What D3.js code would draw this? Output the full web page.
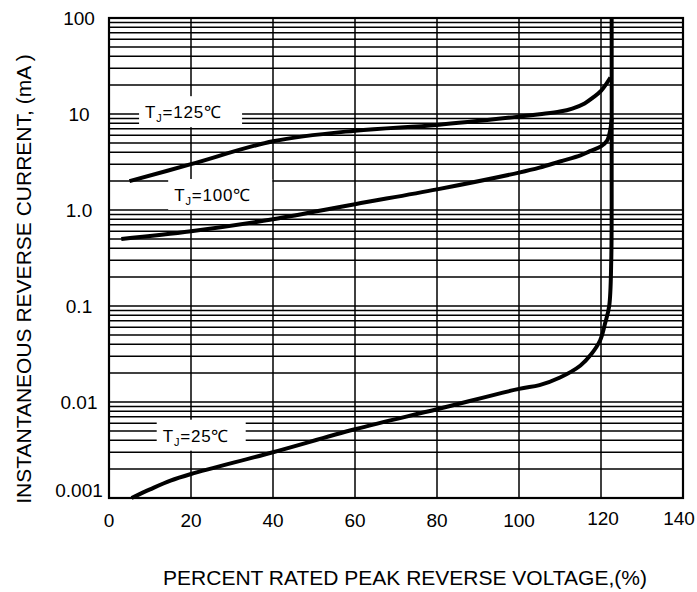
<!DOCTYPE html>
<html>
<head>
<meta charset="utf-8">
<script src="https://cdn.jsdelivr.net/npm/d3@7"></script>
<style>
  body { margin: 0; background: #fff; }
  text { font-family: "Liberation Sans", Arial, sans-serif; fill: #000; }
</style>
</head>
<body>
<svg id="chart" width="697" height="592"></svg>
<script>
// percent rated peak reverse voltage vs reverse current (mA)
const pct125 = [5, 20, 40, 60, 80, 100, 105, 110, 113, 116, 118, 120, 122.3];
const cur125 = [2.0, 3.0, 5.2, 6.7, 7.7, 9.4, 9.95, 10.6, 11.4, 12.9, 14.8, 17.4, 24];

const pct100 = [3, 20, 40, 60, 80, 100, 105, 110, 115, 117.3, 120, 121.5, 122.3, 122.6];
const cur100 = [0.5, 0.6, 0.8, 1.15, 1.64, 2.45, 2.76, 3.2, 3.7, 4.1, 4.6, 5.3, 7, 9];

const pct25 = [5.5, 10, 15, 20, 40, 60, 80, 100, 105, 110, 115, 117.5, 119.8, 121, 122, 122.5, 122.6, 122.6];
const cur25 = [0.001, 0.00123, 0.00152, 0.00178, 0.003, 0.0052, 0.0084, 0.0137, 0.015, 0.018, 0.024, 0.031, 0.044, 0.066, 0.1, 0.3, 3, 100];

const xTicks = [0, 20, 40, 60, 80, 100, 120, 140];
const yTicks = [0.001, 0.01, 0.1, 1, 10, 100];
const yTickLabels = ["0.001", "0.01", "0.1", "1.0", "10", "100"];

const curveLabels = [
  {temp: "125", x: 8.8, y: 10.2, w: 103},
  {temp: "100", x: 15.9, y: 1.40, w: 104},
  {temp: "25", x: 13.1, y: 0.00435, w: 89}
];

const svg = d3.select("#chart");

// plot box
const pLeft = 109, pRight = 683, pTop = 18, pBottom = 498;

const x = d3.scaleLinear().domain([0, 140]).range([pLeft, pRight]);
const y = d3.scaleLog().domain([0.001, 100]).range([pBottom, pTop]);

const grid = svg.append("g");

// horizontal log grid, 1..9 in every decade
let hLines = [];
for (let k = -3; k <= 1; k++) {
  for (let d = 1; d <= 9; d++) hLines.push(d * Math.pow(10, k));
}
hLines.push(100);

grid.selectAll(".h").data(hLines).enter().append("line")
  .attr("x1", pLeft).attr("x2", pRight)
  .attr("y1", d => y(d)).attr("y2", d => y(d))
  .attr("stroke", "#000").attr("stroke-width", 1.5);

grid.selectAll(".v").data([20, 40, 60, 80, 100, 120]).enter().append("line")
  .attr("x1", d => x(d)).attr("x2", d => x(d))
  .attr("y1", pTop).attr("y2", pBottom)
  .attr("stroke", "#000").attr("stroke-width", 1.5);

svg.append("rect")
  .attr("x", pLeft).attr("y", pTop)
  .attr("width", pRight - pLeft).attr("height", pBottom - pTop)
  .attr("fill", "none").attr("stroke", "#000").attr("stroke-width", 2.2);

// curves
const line = d3.line()
  .x(d => x(d[0]))
  .y(d => y(d[1]))
  .curve(d3.curveCatmullRom.alpha(0.5));

[[pct125, cur125], [pct100, cur100], [pct25, cur25]].forEach(function (s) {
  svg.append("path")
    .datum(d3.zip(s[0], s[1]))
    .attr("d", line)
    .attr("fill", "none")
    .attr("stroke", "#000")
    .attr("stroke-width", 4);
});

// curve labels on white boxes
curveLabels.forEach(function (c) {
  const cx = x(c.x), cy = y(c.y);
  svg.append("rect")
    .attr("x", cx - 6).attr("y", cy - 17)
    .attr("width", c.w).attr("height", 31)
    .attr("fill", "#fff");
  const t = svg.append("text")
    .attr("x", cx).attr("y", cy + 5)
    .attr("font-size", 17)
    .attr("letter-spacing", 0.8);
  t.append("tspan").text("T");
  t.append("tspan").attr("font-size", 11).attr("dy", 4).text("J");
  t.append("tspan").attr("dy", -4).text("=" + c.temp + "\u2103");
});

// tick labels
svg.selectAll(".xt").data(xTicks).enter().append("text")
  .attr("x", d => x(d) + (d === 140 ? -4 : d === 120 ? 2 : 0))
  .attr("y", d => d >= 120 ? 525 : 527)
  .attr("text-anchor", "middle")
  .attr("font-size", 19)
  .text(d => d);

svg.selectAll(".yt").data(yTicks).enter().append("text")
  .attr("x", 79)
  .attr("y", (d, i) => y(d) + 7 - (i === 0 ? 8 : 0))
  .attr("text-anchor", "middle")
  .attr("font-size", 19)
  .text((d, i) => yTickLabels[i]);

// axis titles
svg.append("text")
  .attr("x", 405).attr("y", 585)
  .attr("text-anchor", "middle")
  .attr("font-size", 21)
  .text("PERCENT RATED PEAK REVERSE VOLTAGE,(%)");

svg.append("text")
  .attr("transform", "translate(31,279) rotate(-90)")
  .attr("text-anchor", "middle")
  .attr("font-size", 21)
  .text("INSTANTANEOUS REVERSE CURRENT, (mA )");
</script>
</body>
</html>
